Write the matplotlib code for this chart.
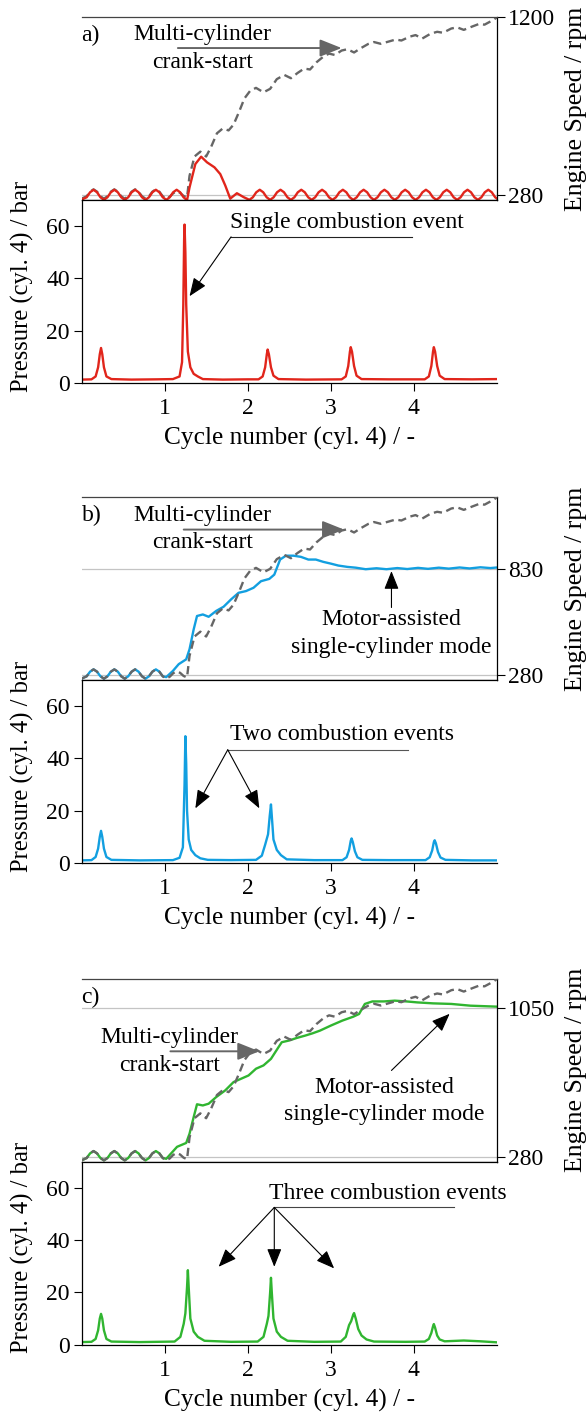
"""Crank-start comparison: engine speed (top) and cyl. 4 pressure (bottom), three cases."""
import matplotlib

matplotlib.use("Agg")
import matplotlib.pyplot as plt

plt.rcParams["font.family"] = ["Liberation Serif", "DejaVu Serif"]
plt.rcParams["font.size"] = 17

# ---------------------------------------------------------------- data
# engine speed, cycle number (cyl. 4) vs rpm
GRAY_X = [0.00, 0.062, 0.103, 0.145, 0.187, 0.228,
          0.27, 0.312, 0.353, 0.395, 0.437, 0.478,
          0.52, 0.562, 0.603, 0.645, 0.687, 0.728,
          0.77, 0.812, 0.853, 0.895, 0.937, 0.978,
          1.02, 1.062, 1.103, 1.145, 1.187, 1.228, 1.27,
          1.30, 1.36, 1.43, 1.50, 1.56, 1.63, 1.70, 1.77, 1.83, 1.90,
          1.96, 2.03, 2.10, 2.19, 2.27, 2.35, 2.44, 2.52, 2.60, 2.68,
          2.75, 2.83, 2.92, 2.98, 3.05, 3.13, 3.20, 3.28, 3.36, 3.45,
          3.52, 3.60, 3.70, 3.78, 3.85, 3.95, 4.02, 4.10, 4.20, 4.28,
          4.35, 4.45, 4.52, 4.60, 4.70, 4.78, 4.85, 4.95, 5.00]
GRAY_RPM = [262, 274, 298, 310, 298, 274,
            262, 274, 298, 310, 298, 274,
            262, 274, 298, 310, 298, 274,
            262, 274, 298, 310, 298, 274,
            262, 272, 290, 300, 292, 276, 268,
            380, 480, 505, 480, 530, 600, 625, 615, 645, 715,
            780, 820, 835, 812, 830, 880, 902, 885, 912, 935,
            930, 968, 1000, 1012, 1005, 1028, 1035, 1018, 1040, 1062,
            1072, 1063, 1075, 1085, 1080, 1100, 1108, 1090, 1115, 1125,
            1120, 1142, 1148, 1135, 1152, 1165, 1162, 1185, 1200]

RED_X = [0.00, 0.062, 0.103, 0.145, 0.187, 0.228,
         0.27, 0.312, 0.353, 0.395, 0.437, 0.478,
         0.52, 0.562, 0.603, 0.645, 0.687, 0.728,
         0.77, 0.812, 0.853, 0.895, 0.937, 0.978,
         1.02, 1.062, 1.103, 1.145, 1.187, 1.228, 1.27,
         1.30, 1.37, 1.44, 1.51, 1.60, 1.67, 1.73, 1.79, 1.87, 1.95,
         2.02, 2.062, 2.103, 2.145, 2.187, 2.228,
         2.27, 2.312, 2.353, 2.395, 2.437, 2.478,
         2.52, 2.562, 2.603, 2.645, 2.687, 2.728,
         2.77, 2.812, 2.853, 2.895, 2.937, 2.978,
         3.02, 3.062, 3.103, 3.145, 3.187, 3.228,
         3.27, 3.312, 3.353, 3.395, 3.437, 3.478,
         3.52, 3.562, 3.603, 3.645, 3.687, 3.728,
         3.77, 3.812, 3.853, 3.895, 3.937, 3.978,
         4.02, 4.062, 4.103, 4.145, 4.187, 4.228,
         4.27, 4.312, 4.353, 4.395, 4.437, 4.478,
         4.52, 4.562, 4.603, 4.645, 4.687, 4.728,
         4.77, 4.812, 4.853, 4.895, 4.937, 4.978, 5.00]
RED_RPM = [257, 269, 295, 308, 295, 269,
           256, 269, 295, 308, 295, 269,
           256, 269, 295, 308, 295, 269,
           256, 269, 295, 308, 295, 269,
           256, 269, 295, 308, 295, 269, 254,
           320, 441, 479, 450, 424, 389, 330, 262, 290, 270,
           256, 269, 295, 308, 295, 269,
           256, 269, 295, 308, 295, 269,
           256, 269, 295, 308, 295, 269,
           256, 269, 295, 308, 295, 269,
           256, 269, 295, 308, 295, 269,
           256, 269, 295, 308, 295, 269,
           256, 269, 295, 308, 295, 269,
           256, 269, 295, 308, 295, 269,
           256, 269, 295, 308, 295, 269,
           256, 269, 295, 308, 295, 269,
           256, 269, 295, 308, 295, 269,
           256, 269, 295, 308, 295, 269, 262]

BLUE_X = [0.00, 0.062, 0.103, 0.145, 0.187, 0.228,
          0.27, 0.312, 0.353, 0.395, 0.437, 0.478,
          0.52, 0.562, 0.603, 0.645, 0.687, 0.728,
          0.77, 0.812, 0.853, 0.895, 0.937, 0.978, 1.02,
          1.10, 1.17, 1.26, 1.30, 1.35, 1.39, 1.46, 1.53, 1.62, 1.71,
          1.80, 1.89, 1.98, 2.07, 2.16, 2.26, 2.32, 2.39, 2.46, 2.55,
          2.64, 2.73, 2.82, 2.91, 3.00, 3.09, 3.20, 3.30, 3.42, 3.55,
          3.67, 3.80, 3.92, 4.05, 4.17, 4.30, 4.42, 4.55, 4.67, 4.80,
          4.92, 5.00]
BLUE_RPM = [262, 274, 298, 310, 298, 274,
            262, 274, 298, 310, 298, 274,
            262, 274, 298, 310, 298, 274,
            262, 274, 298, 310, 298, 274, 270,
            302, 337, 362, 414, 517, 586, 594, 582, 612, 634,
            672, 706, 715, 732, 766, 778, 800, 878, 898, 898,
            892, 878, 878, 866, 857, 847, 840, 836, 828, 833,
            828, 834, 829, 835, 830, 836, 831, 837, 832, 838,
            834, 837]

GREEN_X = [0.00, 0.062, 0.103, 0.145, 0.187, 0.228,
           0.27, 0.312, 0.353, 0.395, 0.437, 0.478,
           0.52, 0.562, 0.603, 0.645, 0.687, 0.728,
           0.77, 0.812, 0.853, 0.895, 0.937, 0.978, 1.02,
           1.15, 1.26, 1.30, 1.35, 1.39, 1.46, 1.53, 1.62, 1.73, 1.83,
           1.92, 2.01, 2.10, 2.19, 2.28, 2.37, 2.41, 2.50, 2.59, 2.69,
           2.78, 2.87, 3.00, 3.14, 3.27, 3.34, 3.41, 3.50, 3.64, 3.77,
           3.91, 4.04, 4.23, 4.45, 4.68, 5.00]
GREEN_RPM = [262, 274, 298, 310, 298, 274,
             262, 274, 298, 310, 298, 274,
             262, 274, 298, 310, 298, 274,
             262, 274, 298, 310, 298, 274, 270,
             332, 352, 400, 486, 552, 546, 555, 589, 624, 667,
             684, 701, 736, 753, 787, 847, 873, 882, 895, 907,
             919, 933, 959, 985, 1005, 1019, 1071, 1084, 1084, 1088,
             1084, 1079, 1074, 1071, 1062, 1057]

# cylinder 4 pressure, cycle number vs bar
P_RED_X = [0.00, 0.12, 0.17, 0.20, 0.22, 0.235, 0.25, 0.27, 0.30, 0.36,
           0.60, 0.90, 1.10, 1.18, 1.21, 1.225, 1.235, 1.24, 1.25, 1.26,
           1.28, 1.31, 1.35, 1.40, 1.46, 1.70, 2.00, 2.13, 2.18, 2.21,
           2.23, 2.24, 2.255, 2.28, 2.31, 2.37, 2.70, 3.13, 3.18, 3.21,
           3.23, 3.24, 3.255, 3.28, 3.31, 3.37, 3.70, 4.13, 4.18, 4.21,
           4.23, 4.24, 4.255, 4.28, 4.31, 4.37, 4.70, 5.00]
P_RED = [1.3, 1.4, 2.5, 6.0, 11.0, 13.4, 11.0, 6.0, 2.5, 1.5,
         1.3, 1.4, 1.5, 2.5, 8.0, 30.0, 55.0, 60.6, 50.0, 30.0,
         12.0, 6.0, 3.5, 2.5, 1.5, 1.3, 1.4, 1.4, 2.5, 6.0,
         11.0, 12.8, 11.0, 6.0, 2.8, 1.5, 1.3, 1.4, 2.5, 6.5,
         12.0, 13.7, 12.0, 6.5, 2.8, 1.5, 1.4, 1.4, 2.5, 6.5,
         12.0, 13.7, 12.0, 6.5, 2.8, 1.5, 1.4, 1.5]

P_BLUE_X = [0.00, 0.12, 0.17, 0.20, 0.22, 0.235, 0.25, 0.27, 0.30, 0.36,
            0.70, 1.10, 1.18, 1.22, 1.24, 1.25, 1.26, 1.27, 1.29, 1.32,
            1.37, 1.43, 1.52, 1.80, 2.10, 2.17, 2.21, 2.245, 2.265, 2.28,
            2.29, 2.31, 2.35, 2.40, 2.47, 2.80, 3.14, 3.19, 3.22, 3.24,
            3.25, 3.265, 3.29, 3.32, 3.38, 3.70, 4.14, 4.19, 4.22, 4.24,
            4.25, 4.265, 4.29, 4.32, 4.38, 4.70, 5.00]
P_BLUE = [1.0, 1.1, 2.3, 5.5, 10.0, 12.3, 10.0, 5.5, 2.3, 1.2,
          1.0, 1.1, 2.0, 6.0, 30.0, 48.5, 38.0, 20.0, 9.0, 5.0,
          3.0, 1.8, 1.2, 1.1, 1.2, 2.8, 7.0, 11.0, 18.0, 22.4,
          18.0, 9.0, 5.0, 3.0, 1.4, 1.1, 1.1, 2.2, 5.0, 8.5,
          9.4, 8.0, 4.5, 2.2, 1.2, 1.1, 1.1, 2.2, 4.8, 8.0,
          8.7, 7.5, 4.2, 2.1, 1.2, 1.0, 1.0]

P_GREEN_X = [0.00, 0.12, 0.17, 0.20, 0.22, 0.235, 0.25, 0.27, 0.30, 0.36,
             0.70, 1.12, 1.19, 1.23, 1.25, 1.27, 1.28, 1.29, 1.31, 1.35,
             1.40, 1.48, 1.80, 2.12, 2.19, 2.23, 2.25, 2.27, 2.28, 2.29,
             2.31, 2.35, 2.40, 2.48, 2.80, 3.12, 3.18, 3.22, 3.245, 3.27,
             3.28, 3.30, 3.33, 3.37, 3.43, 3.52, 3.90, 4.13, 4.18, 4.21,
             4.23, 4.24, 4.255, 4.28, 4.31, 4.37, 4.60, 4.80, 5.00]
P_GREEN = [1.0, 1.1, 2.2, 5.5, 10.0, 11.8, 10.0, 5.5, 2.2, 1.2,
           1.0, 1.2, 3.0, 8.0, 12.0, 22.0, 28.5, 22.0, 10.0, 5.0,
           3.0, 1.5, 1.1, 1.2, 3.0, 8.0, 11.0, 20.0, 25.6, 20.0,
           10.0, 5.0, 3.0, 1.5, 1.1, 1.2, 3.0, 7.5, 9.0, 11.5,
           12.1, 10.0, 6.0, 3.5, 2.0, 1.2, 1.1, 1.2, 2.2, 4.5,
           7.0, 7.9, 6.5, 3.5, 2.0, 1.3, 1.6, 1.3, 0.9]

SPEED_TICKS_A = [280, 1200]
SPEED_TICKS_B = [280, 830]
SPEED_TICKS_C = [280, 1050]
PRESSURE_TICKS = [0, 20, 40, 60]
CYCLE_TICKS = [1, 2, 3, 4]

# ---------------------------------------------------------------- layout (px)
W, H = 587, 1418
LEFT, RIGHT = 81.5, 497.0
SPEED_H, PRESS_H = 182.7, 183.0
PANEL_TOPS = [17.3, 497.3, 979.0]

RED, BLUE, GREEN, GRAY = "#e1251b", "#129fe0", "#30b530", "#666666"


def rect(top, height):
    return [LEFT / W, 1 - (top + height) / H, (RIGHT - LEFT) / W, height / H]


def arrow(ax, tail, tip, color="black", lw=0.8, scale=16):
    ax.annotate("", xy=tip, xytext=tail,
                arrowprops=dict(arrowstyle="-|>,head_length=0.7,head_width=0.28",
                                color=color, lw=lw, shrinkA=0, shrinkB=0,
                                mutation_scale=scale))


def make_panel(fig, top, letter, color, sx, srpm, px, pbar, speed_ticks, gray_on_top):
    ax_s = fig.add_axes(rect(top, SPEED_H))
    ax_p = fig.add_axes(rect(top + SPEED_H, PRESS_H))

    # engine speed
    for t in speed_ticks:
        if t < 1200:
            ax_s.axhline(t, color="#c4c4c4", lw=0.9, zorder=0)
    ax_s.plot(GRAY_X, GRAY_RPM, color=GRAY, lw=1.7, ls=(0, (3.5, 2.0)),
              zorder=3 if gray_on_top else 2)
    ax_s.plot(sx, srpm, color=color, lw=1.7, zorder=2.5)
    ax_s.set_xlim(0, 5.0)
    ax_s.set_ylim(255, 1200)
    ax_s.set_xticks([])
    ax_s.yaxis.tick_right()
    ax_s.set_yticks(speed_ticks)
    ax_s.tick_params(axis="y", direction="out", length=6, width=0.8, pad=2)
    ax_s.spines["left"].set_visible(False)
    ax_s.spines["top"].set_color("#444444")
    for s in ax_s.spines.values():
        s.set_linewidth(0.9)
    ax_s.text(0.0, 0.9, letter, transform=ax_s.transAxes, ha="left", va="center")
    ax_s.text(1.19, 0.5, "Engine Speed / rpm", transform=ax_s.transAxes,
              rotation=90, ha="center", va="center", fontsize=18.5)

    # pressure
    ax_p.plot(px, pbar, color=color, lw=1.7)
    ax_p.set_xlim(0, 5.0)
    ax_p.set_ylim(0, 70)
    ax_p.set_yticks(PRESSURE_TICKS)
    ax_p.set_xticks(CYCLE_TICKS)
    ax_p.tick_params(direction="out", length=6, width=0.8, pad=2.5)
    ax_p.tick_params(axis="x", pad=5)
    ax_p.spines["right"].set_visible(False)
    for s in ax_p.spines.values():
        s.set_linewidth(0.9)
    ax_p.text(-0.143, 0.53, "Pressure (cyl. 4) / bar", transform=ax_p.transAxes,
              rotation=90, ha="center", va="center", fontsize=17.7)
    ax_p.text(0.5, -0.305, "Cycle number (cyl. 4) / -", transform=ax_p.transAxes,
              ha="center", va="center", fontsize=18.3)
    return ax_s, ax_p


fig = plt.figure(figsize=(W / 100, H / 100), dpi=100)

# a) single combustion event
ax_s, ax_p = make_panel(fig, PANEL_TOPS[0], "a)", RED, RED_X, RED_RPM,
                        P_RED_X, P_RED, SPEED_TICKS_A, gray_on_top=False)
ax_s.text(1.46, 1038, "Multi-cylinder\ncrank-start", ha="center", va="center",
          linespacing=1.4)
arrow(ax_s, (1.16, 1041), (3.13, 1041), color=GRAY, lw=1.4, scale=19)
ax_p.text(3.19, 61.4, "Single combustion event", ha="center", va="center")
ax_p.plot([1.80, 3.98], [55.9, 55.9], color="#222222", lw=0.8)
arrow(ax_p, (1.80, 55.9), (1.30, 33.2))

# b) two combustion events
ax_s, ax_p = make_panel(fig, PANEL_TOPS[1], "b)", BLUE, BLUE_X, BLUE_RPM,
                        P_BLUE_X, P_BLUE, SPEED_TICKS_B, gray_on_top=True)
ax_s.text(1.46, 1036, "Multi-cylinder\ncrank-start", ha="center", va="center",
          linespacing=1.4)
arrow(ax_s, (1.23, 1033), (3.16, 1033), color=GRAY, lw=1.4, scale=19)
ax_s.text(3.73, 495, "Motor-assisted\nsingle-cylinder mode", ha="center",
          va="center", linespacing=1.4)
arrow(ax_s, (3.73, 630), (3.73, 818))
ax_p.text(3.13, 49.1, "Two combustion events", ha="center", va="center")
ax_p.plot([1.76, 3.93], [43.3, 43.3], color="#555555", lw=0.8)
arrow(ax_p, (1.76, 43.3), (1.37, 20.9))
arrow(ax_p, (1.76, 43.3), (2.14, 20.9))

# c) three combustion events
ax_s, ax_p = make_panel(fig, PANEL_TOPS[2], "c)", GREEN, GREEN_X, GREEN_RPM,
                        P_GREEN_X, P_GREEN, SPEED_TICKS_C, gray_on_top=True)
ax_s.text(1.06, 825, "Multi-cylinder\ncrank-start", ha="center", va="center",
          linespacing=1.4)
arrow(ax_s, (1.07, 826), (2.14, 826), color=GRAY, lw=1.4, scale=19)
ax_s.text(3.64, 568, "Motor-assisted\nsingle-cylinder mode", ha="center",
          va="center", linespacing=1.4)
arrow(ax_s, (3.73, 727), (4.43, 1020))
ax_p.text(3.69, 57.9, "Three combustion events", ha="center", va="center")
ax_p.plot([2.32, 4.48], [52.5, 52.5], color="#444444", lw=0.8)
arrow(ax_p, (2.32, 52.5), (1.65, 29.8))
arrow(ax_p, (2.32, 52.5), (2.32, 29.8))
arrow(ax_p, (2.32, 52.5), (3.04, 29.2))

fig.savefig("out.png", dpi=100)
